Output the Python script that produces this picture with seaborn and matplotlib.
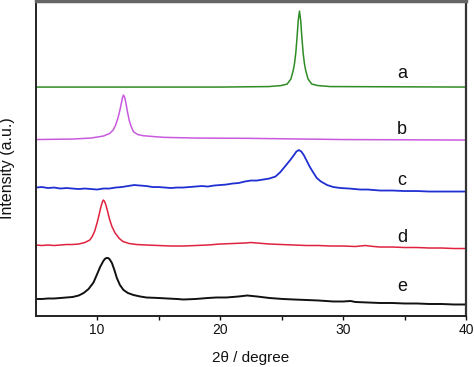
import matplotlib
matplotlib.use("Agg")
import matplotlib.pyplot as plt
import seaborn as sns

# XRD patterns, stacked (intensity in arbitrary units, offsets included)
curve_names = ["a", "b", "c", "d", "e"]
curve_colors = ["#2f8c25", "#c95ade", "#1f2fd2", "#e0223f", "#111111"]

a_x = [5, 20, 23.95, 24.95, 25.45, 25.75, 25.95, 26.05, 26.15, 26.25, 26.35,
       26.45, 26.55, 26.65, 26.75, 26.85, 26.95, 27.15, 27.45, 27.95, 28.95, 40]
a_y = [229, 229, 229.5, 230.5, 232, 237, 246, 252.8, 263, 278, 295.8,
       305, 295.8, 278, 263, 252.8, 246, 237, 232, 230.5, 229.5, 229]

b_x = [5, 8, 9.5, 10.5, 11.0, 11.3, 11.5, 11.7, 11.85, 11.95, 12.05, 12.14,
       12.24, 12.34, 12.45, 12.6, 12.75, 12.95, 13.3, 13.77, 15.4, 18, 22.4,
       30, 40]
b_y = [176.5, 177, 178, 180, 182.5, 186, 191, 198.5, 206, 212, 218, 221,
       218.5, 213, 205, 196, 190, 184.3, 181.5, 180.3, 178.7, 178, 177.7,
       176.5, 176]

c_x = [5, 5.5, 6, 6.5, 7, 7.5, 8, 8.5, 9, 9.5, 10, 10.5, 11, 11.5, 12, 12.5,
       13, 13.5, 14, 14.5, 15, 15.5, 16, 16.5, 17, 17.5, 18, 18.5, 19, 19.5,
       20, 20.5, 21, 21.5, 22, 22.5, 23, 23.5, 24, 24.5, 24.9, 25.3, 25.7, 26,
       26.2, 26.4, 26.6, 26.8, 27.05, 27.3, 27.6, 27.86, 28.2, 28.7, 29.2,
       29.8, 30.5, 31.4, 32, 33, 34, 35, 36, 37, 38, 39, 40]
c_y = [128.5, 129, 128, 128.5, 127.5, 128, 127.5, 127, 127.5, 127, 126.5,
       127.5, 127.5, 128.5, 129, 130, 131, 130.5, 130, 129, 129, 128.5, 128,
       128.5, 128.5, 129, 129.5, 130, 129.5, 130.5, 131, 131.5, 132.5, 133,
       134.5, 135.5, 135.5, 136.5, 137.5, 139.5, 144, 150, 156, 161, 164.5,
       166, 164.5, 161, 155, 149, 143, 138, 134.5, 131, 129, 128, 127.5, 126.5,
       126.5, 125.5, 125.5, 125, 125, 124.5, 124.5, 124.5, 124.5]

d_x = [5, 5.5, 6, 6.5, 7, 7.5, 8, 8.5, 9, 9.4, 9.6, 9.8, 10.0, 10.15, 10.3,
       10.42, 10.5, 10.58, 10.7, 10.85, 11.0, 11.2, 11.46, 11.8, 12.1, 12.6,
       13.2, 14, 15, 16, 17, 18, 19, 20, 21, 22, 22.5, 23, 24, 25, 26, 27, 28,
       29, 30, 31, 31.8, 32.5, 33, 34, 35, 36, 37, 38, 39, 40]
d_y = [71, 70.5, 71, 70.5, 71, 71.5, 71.5, 72, 73.5, 76, 79.5, 85, 93.5, 101,
       109, 114, 116, 115, 111.5, 104.5, 97, 89.5, 83, 77.5, 74.5, 72.5,
       71.5, 71, 70.5, 70, 70, 70.5, 71, 72, 72.5, 73, 73.5, 73, 72, 71.5, 71,
       70.5, 70.5, 70, 70, 69.5, 70.5, 69.5, 69, 69, 68.5, 68.5, 68, 68, 67.5,
       67.5]

e_x = [5, 5.5, 6, 6.5, 7, 7.5, 8, 8.5, 8.9, 9.3, 9.7, 10.0, 10.24, 10.5, 10.62,
       10.75, 10.88, 11.0, 11.2, 11.4, 11.6, 11.85, 12.14, 12.5, 12.95, 13.5,
       14, 15, 15.7, 16.5, 17, 18, 19, 19.7, 20.5, 21, 21.5, 22.2, 23, 24,
       25.1, 26, 27, 28, 29.2, 30, 30.6, 31, 32, 33, 34, 35, 36, 37, 38, 39, 40]
e_y = [17, 17, 17.5, 17.5, 18, 18.5, 19, 20.5, 23, 27, 33.5, 42, 49, 55, 57,
       58, 58, 57, 53, 46, 38, 31, 26, 23, 21, 19.5, 18.5, 18, 17.5, 17, 16.5,
       17, 18, 18.5, 18.5, 19, 19.5, 20.5, 19.5, 18, 17, 16.5, 16, 15.5, 14.5,
       14.5, 15, 14, 13.5, 13, 13, 12.5, 12.5, 12, 12, 11.5, 11.5]

sns.set_style("ticks")
plt.rcParams["font.family"] = ["Liberation Sans", "DejaVu Sans"]

fig = plt.figure(figsize=(4.74, 3.67), dpi=100)
ax = fig.add_axes([0.0753, 0.139, 0.908, 0.858])

curves = [(a_x, a_y), (b_x, b_y), (c_x, c_y), (d_x, d_y), (e_x, e_y)]
widths = [1.1, 1.1, 1.3, 1.1, 1.4]
for (xs, ys), col, lw in zip(curves, curve_colors, widths):
    sns.lineplot(x=xs, y=ys, color=col, lw=lw, ax=ax, sort=False)

# curve labels
label_y = [243, 187, 136, 79, 29]
for name, ly in zip(curve_names, label_y):
    ax.text(34.8, ly, name, fontsize=13, ha="center", va="center", color="#111111")

ax.set_xlim(5, 40)
ax.set_ylim(0, 315)
ax.set_xticks([10, 20, 30, 40])
ax.set_xticks([15, 25, 35], minor=True)
ax.set_yticks([])
ax.tick_params(axis="x", which="both", direction="out", length=3, width=1,
               labelsize=10, colors="#111111", pad=2)

for side in ["left", "bottom"]:
    ax.spines[side].set_linewidth(1.4)
    ax.spines[side].set_color("#222222")
ax.spines["right"].set_linewidth(1.6)
ax.spines["right"].set_color("#333333")
ax.spines["top"].set_linewidth(2.5)
ax.spines["top"].set_color("#666666")

ax.set_xlabel("2θ / degree", fontsize=11, labelpad=10, color="#111111")
ax.set_ylabel("Intensity (a.u.)", fontsize=11.5, color="#111111")
ax.yaxis.set_label_coords(-0.048, 0.468)

fig.savefig("out.png", dpi=100)
